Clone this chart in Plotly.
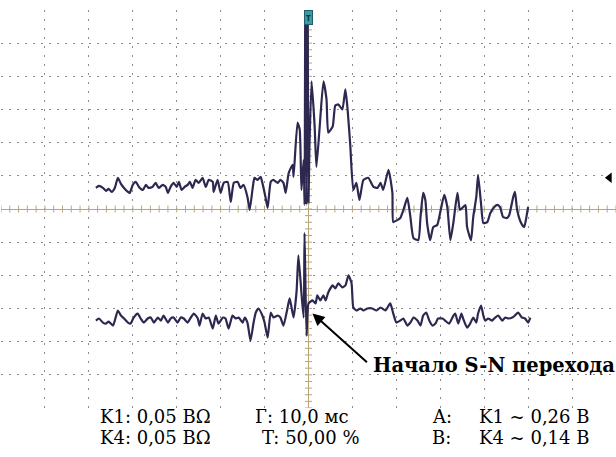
import plotly.graph_objects as go
import numpy as np

# ---- data (time in ms relative to trigger, amplitude in mV) ----
ch1_t = [-48.4, -47.7, -46.8, -46.1, -45.5, -44.8, -44.1, -43.4, -42.7, -42.0, -41.1, -40.7, -40.0, -39.3,
         -38.6, -37.7, -37.0, -36.4, -35.5, -34.8, -34.1, -33.2, -32.5, -32.0, -31.4, -30.7, -30.0, -29.5,
         -28.9, -28.2, -27.5, -27.0, -26.4, -25.7, -25.0, -24.1, -23.4, -22.7, -21.8, -21.6, -20.7, -20.0,
         -19.3, -18.4, -17.7, -17.0, -16.1, -15.5, -14.8, -13.9, -13.4, -12.7, -12.3, -11.6, -10.9, -10.5,
         -9.8, -9.3, -8.6, -8.0, -7.0, -6.4, -5.7, -5.2, -4.5, -3.6, -3.4, -2.5, -2.0, -1.6, -1.1, -0.9,
         -0.7, -0.45, -0.25, 0.0, 0.2, 0.7, 1.4, 1.8, 2.5, 3.4, 4.1, 4.5, 5.5, 6.1, 6.8, 7.7, 8.4, 8.9,
         9.5, 10.2, 10.9, 11.6, 12.5, 13.6, 14.8, 15.7, 16.4, 17.0, 18.2, 19.1, 19.3, 20.2, 20.9, 21.6,
         22.5, 23.2, 23.9, 25.0, 25.5, 26.1, 26.6, 27.0, 27.7, 28.4, 29.3, 30.0, 30.9, 31.6, 32.3, 33.0,
         33.9, 34.5, 35.7, 36.1, 37.0, 37.5, 38.2, 38.6, 39.3, 39.8, 40.7, 41.4, 42.3, 43.0, 43.6, 44.3,
         45.2, 45.7, 46.6, 47.0, 47.5, 48.4, 49.1, 49.8, 50.0]
ch1_v = [31.8, 34.8, 31.8, 27.3, 30.3, 25.8, 31.8, 47.0, 37.9, 31.8, 25.8, 24.2, 36.4, 40.9,
         33.3, 28.8, 36.4, 31.8, 33.3, 39.4, 31.8, 36.4, 33.3, 24.2, 33.3, 39.4, 33.3, 40.9,
         28.8, 33.3, 36.4, 40.9, 31.8, 43.9, 39.4, 47.0, 33.3, 43.9, 40.9, 25.8, 43.9, 24.2,
         39.4, 40.9, 10.6, 39.4, 40.9, 31.8, 36.4, 18.2, -1.5, 31.8, 47.0, 43.9, 48.5, 39.4,
         18.2, 1.5, 40.9, 43.9, 39.4, 43.9, 39.4, 24.2, 54.5, 66.7, 48.5, 130.3, 119.7, 28.8, 74.2, 6.1,
         400.0, 6.1, 400.0, 10.0, 89.4, 192.4, 124.2, 63.6, 119.7, 192.4, 165.2, 115.2, 124.2, 156.0, 157.6, 150.0, 180.3, 150.0,
         97.0, 28.8, 39.4, 13.6, 43.9, 47.0, 33.3, 31.8, 39.4, 28.8, 59.1, 24.2, -19.7, -16.7, -13.6, -1.5,
         16.7, -12.1, -43.9, -47.0, -12.1, 24.2, 13.6, -21.2, -47.0, -27.3, -24.2, -4.5, 21.2, 3.0, -47.0, -19.7,
         24.2, -1.5, 6.1, -27.3, -47.0, -12.1, 18.2, 51.5, 6.1, -21.2, -19.7, -6.1, 3.0, 6.1, 3.0, -12.1,
         -13.6, -9.1, 18.2, 25.8, -1.5, -21.2, -27.3, -4.5, 3.0]

ch4_t = [-48.4, -47.7, -46.8, -46.1, -45.5, -44.5, -43.9, -43.4, -42.7, -42.0, -41.1, -40.5, -39.8, -38.9,
         -38.2, -37.5, -36.6, -35.9, -35.2, -34.3, -33.6, -33.0, -32.0, -31.4, -30.7, -29.8, -29.1, -28.4,
         -27.5, -26.8, -26.1, -25.2, -24.8, -24.1, -23.4, -22.7, -21.8, -21.1, -20.5, -19.5, -18.9, -18.2,
         -17.3, -16.6, -15.9, -15.0, -14.5, -13.9, -13.2, -12.5, -12.0, -11.4, -10.5, -10.0, -9.3, -8.6,
         -8.0, -7.0, -6.4, -5.7, -4.8, -4.3, -3.9, -3.4, -2.7, -2.3, -1.6, -1.1, -0.9, -0.45, 0.0, 0.9,
         1.6, 2.0, 2.7, 3.4, 3.9, 4.5, 5.5, 6.1, 6.8, 7.7, 8.4, 9.1, 9.8, 10.2, 10.9, 11.8, 12.5, 13.4,
         14.5, 15.5, 16.4, 17.5, 18.6, 19.3, 20.0, 20.9, 21.6, 22.5, 23.2, 23.9, 24.8, 25.5, 26.1, 26.8,
         27.5, 28.2, 28.9, 29.5, 30.5, 31.1, 32.0, 33.0, 33.4, 34.1, 34.8, 35.2, 36.1, 36.8, 37.5, 38.2,
         38.6, 39.3, 39.8, 40.2, 40.9, 41.8, 42.5, 43.2, 44.1, 44.8, 45.5, 46.4, 47.0, 47.7, 48.6, 49.3,
         50.0, 50.5]
ch4_v = [-168.2, -165.1, -171.2, -172.7, -169.7, -175.7, -163.6, -153.0, -160.6, -165.1, -171.2, -172.7, -163.6, -157.6,
         -165.1, -171.2, -165.1, -163.6, -171.2, -163.6, -168.2, -160.6, -171.2, -165.1, -163.6, -171.2, -163.6, -165.1,
         -171.2, -163.6, -157.6, -165.1, -175.7, -157.6, -165.1, -163.6, -180.3, -160.6, -172.7, -163.6, -165.1, -180.3,
         -160.6, -165.1, -163.6, -171.2, -163.6, -171.2, -198.5, -171.2, -156.0, -150.0, -160.6, -171.2, -193.9, -156.0,
         -163.6, -160.6, -163.6, -175.7, -150.0, -134.8, -147.0, -163.6, -122.7, -69.7, -127.3, -163.6, -36.4, -190.9, -142.4, -137.9,
         -142.4, -130.3, -137.9, -130.3, -137.9, -125.8, -115.2, -119.7, -112.1, -118.2, -115.2, -100.0, -112.1, -148.5, -153.0, -150.0, -153.0, -150.0,
         -150.0, -153.0, -148.5, -153.0, -142.4, -157.6, -171.2, -168.2, -165.1, -175.7, -171.2, -163.6, -168.2, -175.7, -160.6, -156.0,
         -168.2, -175.7, -172.7, -165.1, -165.1, -168.2, -172.7, -160.6, -157.6, -172.7, -157.6, -165.1, -178.8, -172.7, -163.6, -171.2,
         -157.6, -145.5, -160.6, -168.2, -165.1, -168.2, -163.6, -160.6, -168.2, -163.6, -165.1, -163.6, -160.6, -156.0, -163.6, -165.1,
         -171.2, -163.6]

info_left = ["K1: 0,05 BΩ", "K4: 0,05 BΩ"]
info_mid = ["Г: 10,0 мс", "T: 50,00 %"]
info_key = ["A:", "B:"]
info_val = ["K1 ~ 0,26 B", "K4 ~ 0,14 B"]
note_text = "Начало S-N перехода"

# ---- layout geometry ----
W, H = 616, 457
ML, MR, MT, MB = 1, 0, 10, 49
PW, PH = W - ML - MR, H - MT - MB

def pxx(x):
    return (x - ML) / PW

def pxy(y):
    return (H - MB - y) / PH

trace_color = "#2d2850"
axis_color = "#b8a67a"
grid_color = "#8c8c8c"

fig = go.Figure()

# centre axis tick marks
tx = np.arange(-70, 70.01, 2)
fig.add_trace(go.Scatter(x=tx, y=np.zeros_like(tx), mode="markers",
                         marker=dict(symbol="line-ns", size=5, line=dict(width=1, color=axis_color)),
                         hoverinfo="skip", showlegend=False))
ty = np.arange(-300, 300.01, 10)
fig.add_trace(go.Scatter(x=np.zeros_like(ty), y=ty, mode="markers",
                         marker=dict(symbol="line-ew", size=5, line=dict(width=1, color=axis_color)),
                         hoverinfo="skip", showlegend=False))

fig.add_trace(go.Scatter(x=ch1_t, y=ch1_v, mode="lines",
                         line=dict(color=trace_color, width=2.2, shape="spline", smoothing=0.5),
                         showlegend=False))
fig.add_trace(go.Scatter(x=ch4_t, y=ch4_v, mode="lines",
                         line=dict(color=trace_color, width=2.2, shape="spline", smoothing=0.5),
                         showlegend=False))

# CH1 reference marker at right edge
fig.add_trace(go.Scatter(x=[68.5], y=[47], mode="markers", cliponaxis=False,
                         marker=dict(symbol="triangle-left", size=9, color="black"),
                         showlegend=False))

annotations = []
# trigger marker
annotations.append(dict(x=0, y=1, xref="x", yref="paper", yanchor="top", text="<b>T</b>",
                        showarrow=False, bgcolor="#3b9aa3", bordercolor="#1f5f6a", borderwidth=1,
                        borderpad=1, font=dict(size=8, color="#0e2f3a")))
# note arrow
annotations.append(dict(x=0.9, y=-157.6, xref="x", yref="y", text="", showarrow=True,
                        ax=56, ay=50, arrowhead=2, arrowsize=1.2, arrowwidth=2, arrowcolor="black"))
annotations.append(dict(x=14.3, y=-236.4, xref="x", yref="y", text="<b>" + note_text + "</b>",
                        xanchor="left", yanchor="middle", showarrow=False,
                        font=dict(family="DejaVu Serif", size=19.5, color="black")))

rows_y = [416, 437]
for i in range(2):
    for txt, xp in [(info_left[i], 98), (info_mid[i], 253 if i == 0 else 260),
                    (info_key[i], 430), (info_val[i], 477)]:
        annotations.append(dict(x=pxx(xp), y=pxy(rows_y[i]), xref="paper", yref="paper",
                                text=txt, xanchor="left", yanchor="middle", showarrow=False,
                                font=dict(family="DejaVu Serif", size=18, color="black")))

fig.update_layout(
    width=W, height=H, margin=dict(l=ML, r=MR, t=MT, b=MB),
    paper_bgcolor="white", plot_bgcolor="white",
    annotations=annotations,
    xaxis=dict(range=[-70, 70], dtick=10, tick0=0, showticklabels=False, ticks="",
               showgrid=True, gridcolor=grid_color, griddash="2px,7px", gridwidth=1,
               zeroline=True, zerolinecolor=axis_color, zerolinewidth=1, showline=False, fixedrange=True),
    yaxis=dict(range=[-300, 300], dtick=50, tick0=0, showticklabels=False, ticks="",
               showgrid=True, gridcolor=grid_color, griddash="2px,6px", gridwidth=1,
               zeroline=True, zerolinecolor=axis_color, zerolinewidth=1, showline=False, fixedrange=True),
)

fig.write_html("out.html")
